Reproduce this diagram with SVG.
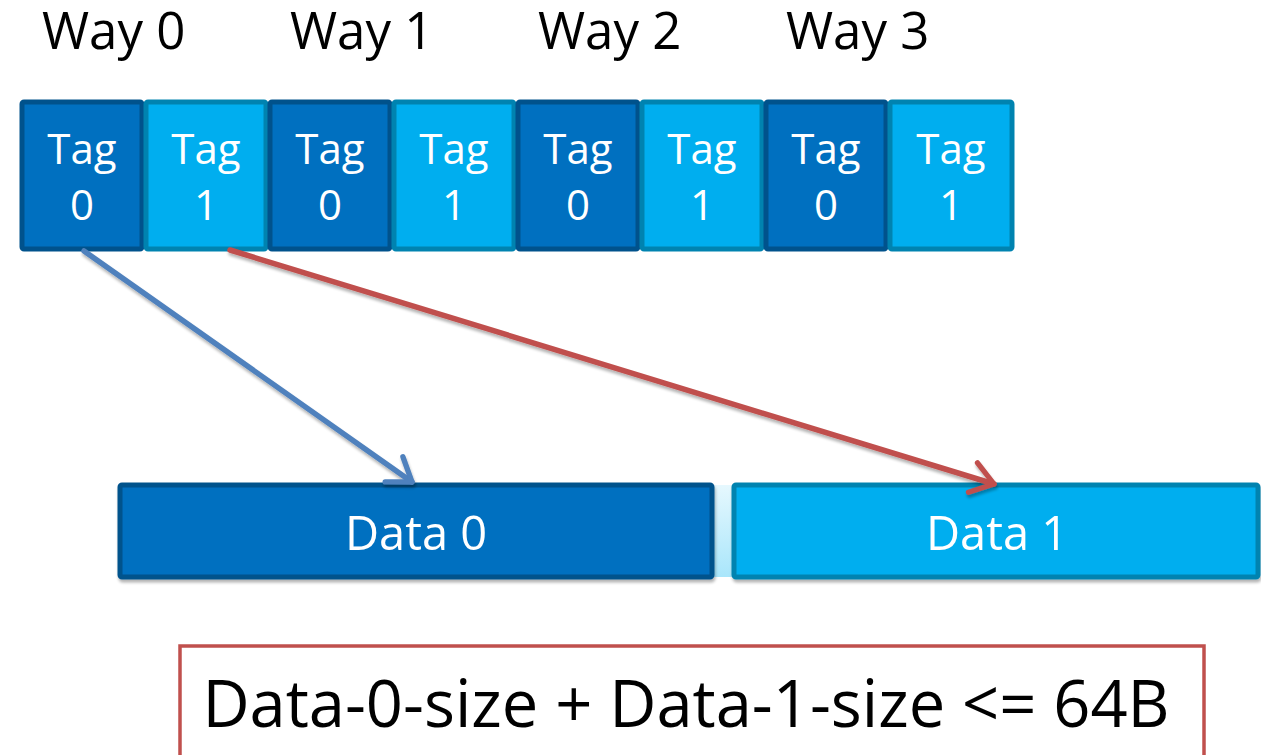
<svg xmlns="http://www.w3.org/2000/svg" width="1261" height="755" viewBox="0 0 1261 755">
  <defs>
    <style>
      .lbl { font-family: "Open Sans", "Noto Sans", "Liberation Sans", sans-serif; }
      .way { font-size: 51px; fill: #000; }
      .tag { font-size: 42px; fill: #fff; text-anchor: middle; }
      .data { font-size: 47px; fill: #fff; text-anchor: middle; }
      .note { font-size: 65px; fill: #000; text-anchor: middle; }
      .dark { fill: #0070c0; stroke: #00528c; stroke-width: 5; }
      .light { fill: #00aeef; stroke: #0083b0; stroke-width: 5; }
      .conn { fill: none; stroke-width: 5.5; stroke-linecap: round; }
    </style>
    <linearGradient id="gap" x1="0" y1="0" x2="0" y2="1">
      <stop offset="0" stop-color="#e6f8fe"/>
      <stop offset="1" stop-color="#a9e6fb"/>
    </linearGradient>
    <filter id="shadow" x="-10%" y="-10%" width="120%" height="130%">
      <feGaussianBlur in="SourceAlpha" stdDeviation="1.5"/>
      <feOffset dx="1" dy="3" result="b"/>
      <feComponentTransfer><feFuncA type="linear" slope="0.3"/></feComponentTransfer>
      <feMerge><feMergeNode/><feMergeNode in="SourceGraphic"/></feMerge>
    </filter>
    <marker id="headBlue" viewBox="0 0 20 20" refX="15" refY="10" markerWidth="8" markerHeight="8" markerUnits="strokeWidth" orient="auto">
      <path d="M5 3 L15 10 L5 17" fill="none" stroke="#4f81bd" stroke-width="2.4" stroke-linecap="round" stroke-linejoin="round"/>
    </marker>
    <marker id="headRed" viewBox="0 0 20 20" refX="15" refY="10" markerWidth="8" markerHeight="8" markerUnits="strokeWidth" orient="auto">
      <path d="M5 3 L15 10 L5 17" fill="none" stroke="#c0504d" stroke-width="2.4" stroke-linecap="round" stroke-linejoin="round"/>
    </marker>
  </defs>

  <rect width="1261" height="755" fill="#fff"/>

  <!-- way headings -->
  <g id="way-labels" class="lbl way">
    <text x="42" y="49">Way 0</text>
    <text x="290" y="49">Way 1</text>
    <text x="538" y="49">Way 2</text>
    <text x="786" y="49">Way 3</text>
  </g>

  <!-- tag array -->
  <g id="tag-w0-0"><rect class="dark" x="22" y="102" width="120" height="147" rx="2"/><text class="lbl tag" x="82" y="164">Tag</text><text class="lbl tag" x="82" y="220">0</text></g>
  <g id="tag-w0-1"><rect class="light" x="146" y="102" width="120" height="147" rx="2"/><text class="lbl tag" x="206" y="164">Tag</text><text class="lbl tag" x="206" y="220">1</text></g>
  <g id="tag-w1-0"><rect class="dark" x="270" y="102" width="120" height="147" rx="2"/><text class="lbl tag" x="330" y="164">Tag</text><text class="lbl tag" x="330" y="220">0</text></g>
  <g id="tag-w1-1"><rect class="light" x="394" y="102" width="120" height="147" rx="2"/><text class="lbl tag" x="454" y="164">Tag</text><text class="lbl tag" x="454" y="220">1</text></g>
  <g id="tag-w2-0"><rect class="dark" x="518" y="102" width="120" height="147" rx="2"/><text class="lbl tag" x="578" y="164">Tag</text><text class="lbl tag" x="578" y="220">0</text></g>
  <g id="tag-w2-1"><rect class="light" x="642" y="102" width="120" height="147" rx="2"/><text class="lbl tag" x="702" y="164">Tag</text><text class="lbl tag" x="702" y="220">1</text></g>
  <g id="tag-w3-0"><rect class="dark" x="766" y="102" width="120" height="147" rx="2"/><text class="lbl tag" x="826" y="164">Tag</text><text class="lbl tag" x="826" y="220">0</text></g>
  <g id="tag-w3-1"><rect class="light" x="890" y="102" width="122" height="147" rx="2"/><text class="lbl tag" x="951" y="164">Tag</text><text class="lbl tag" x="951" y="220">1</text></g>

  <!-- data line -->
  <rect x="712" y="485" width="22" height="92" fill="url(#gap)"/>
  <g id="data-0" filter="url(#shadow)"><rect class="dark" x="120" y="485" width="592" height="92" rx="2"/><text class="lbl data" x="416" y="550">Data 0</text></g>
  <g id="data-1" filter="url(#shadow)"><rect class="light" x="734" y="485" width="524" height="92" rx="2"/><text class="lbl data" x="997" y="550">Data 1</text></g>

  <!-- tag to data pointers -->
  <g id="connectors" filter="url(#shadow)">
    <line class="conn" x1="84" y1="251" x2="412" y2="482" stroke="#4f81bd" marker-end="url(#headBlue)"/>
    <line class="conn" x1="230" y1="250" x2="994" y2="484" stroke="#c0504d" marker-end="url(#headRed)"/>
  </g>

  <!-- size constraint -->
  <g id="constraint">
    <rect x="180" y="646" width="1024" height="116" fill="#fff" stroke="#c0504d" stroke-width="3.5"/>
    <text class="lbl note" x="686" y="727">Data-0-size + Data-1-size &lt;= 64B</text>
  </g>
</svg>
